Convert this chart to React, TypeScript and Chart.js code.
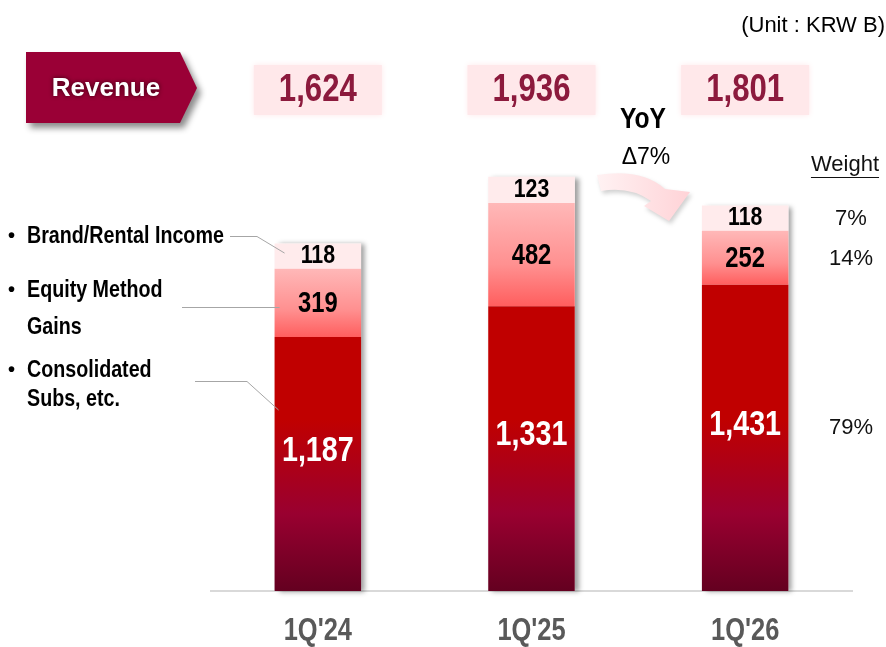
import React, { useEffect, useRef } from "react";
import { Chart, registerables } from "chart.js";

Chart.register(...registerables);

// ---------- data ----------
const categories = ["1Q'24", "1Q'25", "1Q'26"];
const consolidatedSubs = [1187, 1331, 1431];
const equityMethodGains = [319, 482, 252];
const brandRentalIncome = [118, 123, 118];
const revenueTotals = [1624, 1936, 1801];
const weightLabels = ["79%", "14%", "7%"]; // consolidated, equity, brand (latest quarter)
const seriesNames = ["Consolidated Subs, etc.", "Equity Method Gains", "Brand/Rental Income"];
const yoyText = "YoY";
const yoyDelta = "Δ7%";
const unitText = "(Unit : KRW B)";

const SANS = '"Liberation Sans", Arial, Helvetica, sans-serif';
const NARROW_SCALE = 0.82;

const fmt = (v: number) => v.toLocaleString("en-US");

// draws text horizontally condensed (stand-in for Arial Narrow)
function narrowText(ctx: any, text: string, x: number, y: number, font: string, align: string = "center") {
  ctx.save();
  ctx.font = font;
  ctx.textAlign = align;
  ctx.textBaseline = "middle";
  ctx.translate(x, y);
  ctx.scale(NARROW_SCALE, 1);
  ctx.fillText(text, 0, 0);
  ctx.restore();
}

function segmentGradient(c: any, stops: [number, string][], fallback: string) {
  const chart = c.chart;
  const ys = chart.scales && chart.scales.y;
  if (!ys || !chart.chartArea) return fallback;
  const j = c.dataIndex;
  if (j === undefined) return fallback;
  const base = consolidatedSubs[j];
  const top = base + equityMethodGains[j];
  const yTop = ys.getPixelForValue(top);
  const yBot = ys.getPixelForValue(base);
  if (!isFinite(yTop) || !isFinite(yBot)) return fallback;
  const g = chart.ctx.createLinearGradient(0, yTop, 0, yBot);
  stops.forEach(([o, col]) => g.addColorStop(o, col));
  return g;
}

function bottomGradient(c: any) {
  const chart = c.chart;
  const area = chart.chartArea;
  if (!area) return "#C00000";
  const h = area.bottom - area.top;
  const g = chart.ctx.createLinearGradient(0, area.bottom - h * 0.32, 0, area.bottom);
  g.addColorStop(0, "#C00000");
  g.addColorStop(0.55, "#990030");
  g.addColorStop(1, "#640020");
  return g;
}

const overlayPlugin = {
  id: "overlay",
  beforeDatasetsDraw(chart: any) {
    const ctx = chart.ctx;
    const m0 = chart.getDatasetMeta(0);
    const m2 = chart.getDatasetMeta(2);
    ctx.save();
    ctx.shadowColor = "rgba(0,0,0,0.38)";
    ctx.shadowOffsetX = 4;
    ctx.shadowOffsetY = 1;
    ctx.shadowBlur = 5;
    ctx.fillStyle = "#ffffff";
    m0.data.forEach((el: any, j: number) => {
      const topEl = m2.data[j];
      const x = el.x - el.width / 2;
      ctx.fillRect(x, topEl.y, el.width, el.base - topEl.y);
    });
    ctx.restore();
  },
  afterDatasetsDraw(chart: any) {
    const ctx = chart.ctx;
    const xs = chart.scales.x;
    const metas = [0, 1, 2].map((i) => chart.getDatasetMeta(i));
    const values = [consolidatedSubs, equityMethodGains, brandRentalIncome];
    ctx.save();
    ctx.textAlign = "center";
    ctx.textBaseline = "middle";

    // category labels (x axis)
    ctx.fillStyle = "#595959";
    categories.forEach((c, j) => {
      narrowText(ctx, c, xs.getPixelForValue(j), 631, `bold 31px ${SANS}`);
    });

    // segment labels
    metas.forEach((meta: any, i: number) => {
      meta.data.forEach((el: any, j: number) => {
        const cy = (el.y + el.base) / 2;
        if (i === 0) {
          ctx.fillStyle = "#ffffff";
          narrowText(ctx, fmt(values[i][j]), el.x, cy - 13, `bold 35px ${SANS}`);
        } else if (i === 1) {
          ctx.fillStyle = "#000000";
          narrowText(ctx, fmt(values[i][j]), el.x, cy + 1, `bold 29px ${SANS}`);
        } else {
          ctx.fillStyle = "#000000";
          narrowText(ctx, fmt(values[i][j]), el.x, cy, `bold 26px ${SANS}`);
        }
      });
    });

    // weights next to latest bar
    const last = categories.length - 1;
    ctx.fillStyle = "#111111";
    ctx.font = `22px ${SANS}`;
    ctx.textAlign = "center";
    ctx.textBaseline = "middle";
    metas.forEach((meta: any, i: number) => {
      const el = meta.data[last];
      const cy = (el.y + el.base) / 2 + (i === 0 ? -10 : 1);
      ctx.fillText(weightLabels[i], 851, cy);
    });
    ctx.fillText("Weight", 845, 165);
    const ww = ctx.measureText("Weight").width;
    ctx.strokeStyle = "#111111";
    ctx.lineWidth = 1;
    ctx.beginPath();
    ctx.moveTo(845 - ww / 2, 177.5);
    ctx.lineTo(845 + ww / 2, 177.5);
    ctx.stroke();

    // revenue boxes
    revenueTotals.forEach((v, j) => {
      const cx = xs.getPixelForValue(j);
      ctx.save();
      ctx.fillStyle = "#FFE8EA";
      ctx.shadowColor = "#FFE8EA";
      ctx.shadowBlur = 6;
      ctx.fillRect(cx - 64, 65, 128, 50);
      ctx.restore();
      ctx.fillStyle = "#8C1A3D";
      narrowText(ctx, fmt(v), cx, 91, `bold 38px ${SANS}`);
    });

    // Revenue arrow tag
    ctx.save();
    ctx.shadowColor = "rgba(0,0,0,0.45)";
    ctx.shadowOffsetX = 4;
    ctx.shadowOffsetY = 5;
    ctx.shadowBlur = 6;
    ctx.fillStyle = "#9A0036";
    ctx.beginPath();
    ctx.moveTo(26, 52);
    ctx.lineTo(180, 52);
    ctx.lineTo(197, 88);
    ctx.lineTo(180, 123);
    ctx.lineTo(26, 123);
    ctx.closePath();
    ctx.fill();
    ctx.restore();
    ctx.save();
    ctx.shadowColor = "rgba(40,0,10,0.9)";
    ctx.shadowBlur = 4;
    ctx.fillStyle = "#ffffff";
    ctx.font = `bold 26px ${SANS}`;
    ctx.textAlign = "center";
    ctx.textBaseline = "middle";
    ctx.fillText("Revenue", 106, 89);
    ctx.restore();

    // Unit
    ctx.textAlign = "right";
    ctx.textBaseline = "middle";
    ctx.fillStyle = "#000000";
    ctx.font = `22px ${SANS}`;
    ctx.fillText(unitText, 885, 26);

    // YoY
    narrowText(ctx, yoyText, 643, 120, `bold 30px ${SANS}`);
    ctx.textAlign = "center";
    ctx.font = `23px ${SANS}`;
    ctx.fillText(yoyDelta, 646, 158);

    // curved arrow
    ctx.save();
    ctx.shadowColor = "rgba(0,0,0,0.18)";
    ctx.shadowOffsetX = 2;
    ctx.shadowOffsetY = 3;
    ctx.shadowBlur = 4;
    const ag = ctx.createLinearGradient(597, 0, 690, 0);
    ag.addColorStop(0, "#FFF2F3");
    ag.addColorStop(1, "#FFD3D7");
    ctx.fillStyle = ag;
    ctx.beginPath();
    ctx.moveTo(597, 175);
    ctx.quadraticCurveTo(642, 168, 665, 189);
    ctx.lineTo(690, 192);
    ctx.lineTo(669, 221);
    ctx.lineTo(644, 206);
    ctx.lineTo(651, 201);
    ctx.quadraticCurveTo(630, 186, 601, 191);
    ctx.closePath();
    ctx.fill();
    ctx.restore();

    // left legend labels with leader lines
    ctx.fillStyle = "#000000";
    const lines: [string, number][] = [
      ["Brand/Rental Income", 236],
      ["Equity Method", 290],
      ["Gains", 327],
      ["Consolidated", 370],
      ["Subs, etc.", 399],
    ];
    lines.forEach(([t, y]) => narrowText(ctx, t, 27, y, `bold 24px ${SANS}`, "left"));
    ctx.textAlign = "left";
    ctx.textBaseline = "middle";
    ctx.font = `bold 20px ${SANS}`;
    [236, 290, 370].forEach((y) => ctx.fillText("•", 8, y));

    const b0 = metas[0].data[0];
    const b2 = metas[2].data[0];
    const lx = b0.x - b0.width / 2;
    ctx.strokeStyle = "#A6A6A6";
    ctx.lineWidth = 1;
    ctx.beginPath();
    ctx.moveTo(230, 236.5);
    ctx.lineTo(257, 236.5);
    ctx.lineTo(lx + 10, (b2.y + b2.base) / 2 - 3);
    ctx.moveTo(182, 307.5);
    ctx.lineTo(lx + 5, 307.5);
    ctx.moveTo(195, 381.5);
    ctx.lineTo(247, 381.5);
    ctx.lineTo(lx + 4, 410);
    ctx.stroke();

    ctx.restore();
  },
};

export default function App() {
  const ref = useRef<HTMLCanvasElement | null>(null);

  useEffect(() => {
    document.body.style.margin = "0";
    const canvas = ref.current;
    if (!canvas) return;
    const chart = new Chart(canvas, {
      type: "bar",
      data: {
        labels: categories,
        datasets: [
          {
            label: seriesNames[0],
            data: consolidatedSubs,
            backgroundColor: (c: any) => bottomGradient(c),
            borderWidth: 0,
          },
          {
            label: seriesNames[1],
            data: equityMethodGains,
            backgroundColor: (c: any) =>
              segmentGradient(c, [[0, "#FFB8B8"], [0.6, "#FF9090"], [1, "#FF5E5E"]], "#FF9999"),
            borderWidth: 0,
          },
          {
            label: seriesNames[2],
            data: brandRentalIncome,
            backgroundColor: "#FFEBEC",
            borderWidth: 0,
          },
        ],
      },
      options: {
        animation: false,
        responsive: false,
        maintainAspectRatio: false,
        layout: { padding: { left: 211, right: 34, top: 56, bottom: 0 } },
        datasets: { bar: { barPercentage: 0.81, categoryPercentage: 0.5 } },
        plugins: { legend: { display: false }, tooltip: { enabled: false } },
        scales: {
          x: {
            stacked: true,
            grid: { display: false, drawTicks: false },
            border: { display: true, color: "#D9D9D9", width: 2 },
            ticks: { display: false },
            afterFit: (s: any) => {
              s.height = 56;
            },
          },
          y: { stacked: true, display: false, min: 0, max: 2500 },
        },
      } as any,
      plugins: [overlayPlugin],
    });
    return () => chart.destroy();
  }, []);

  return (
    <div style={{ position: "fixed", left: 0, top: 0, width: 886, height: 647, background: "#fff" }}>
      <canvas ref={ref} width={886} height={647} style={{ width: 886, height: 647, display: "block" }} />
    </div>
  );
}
